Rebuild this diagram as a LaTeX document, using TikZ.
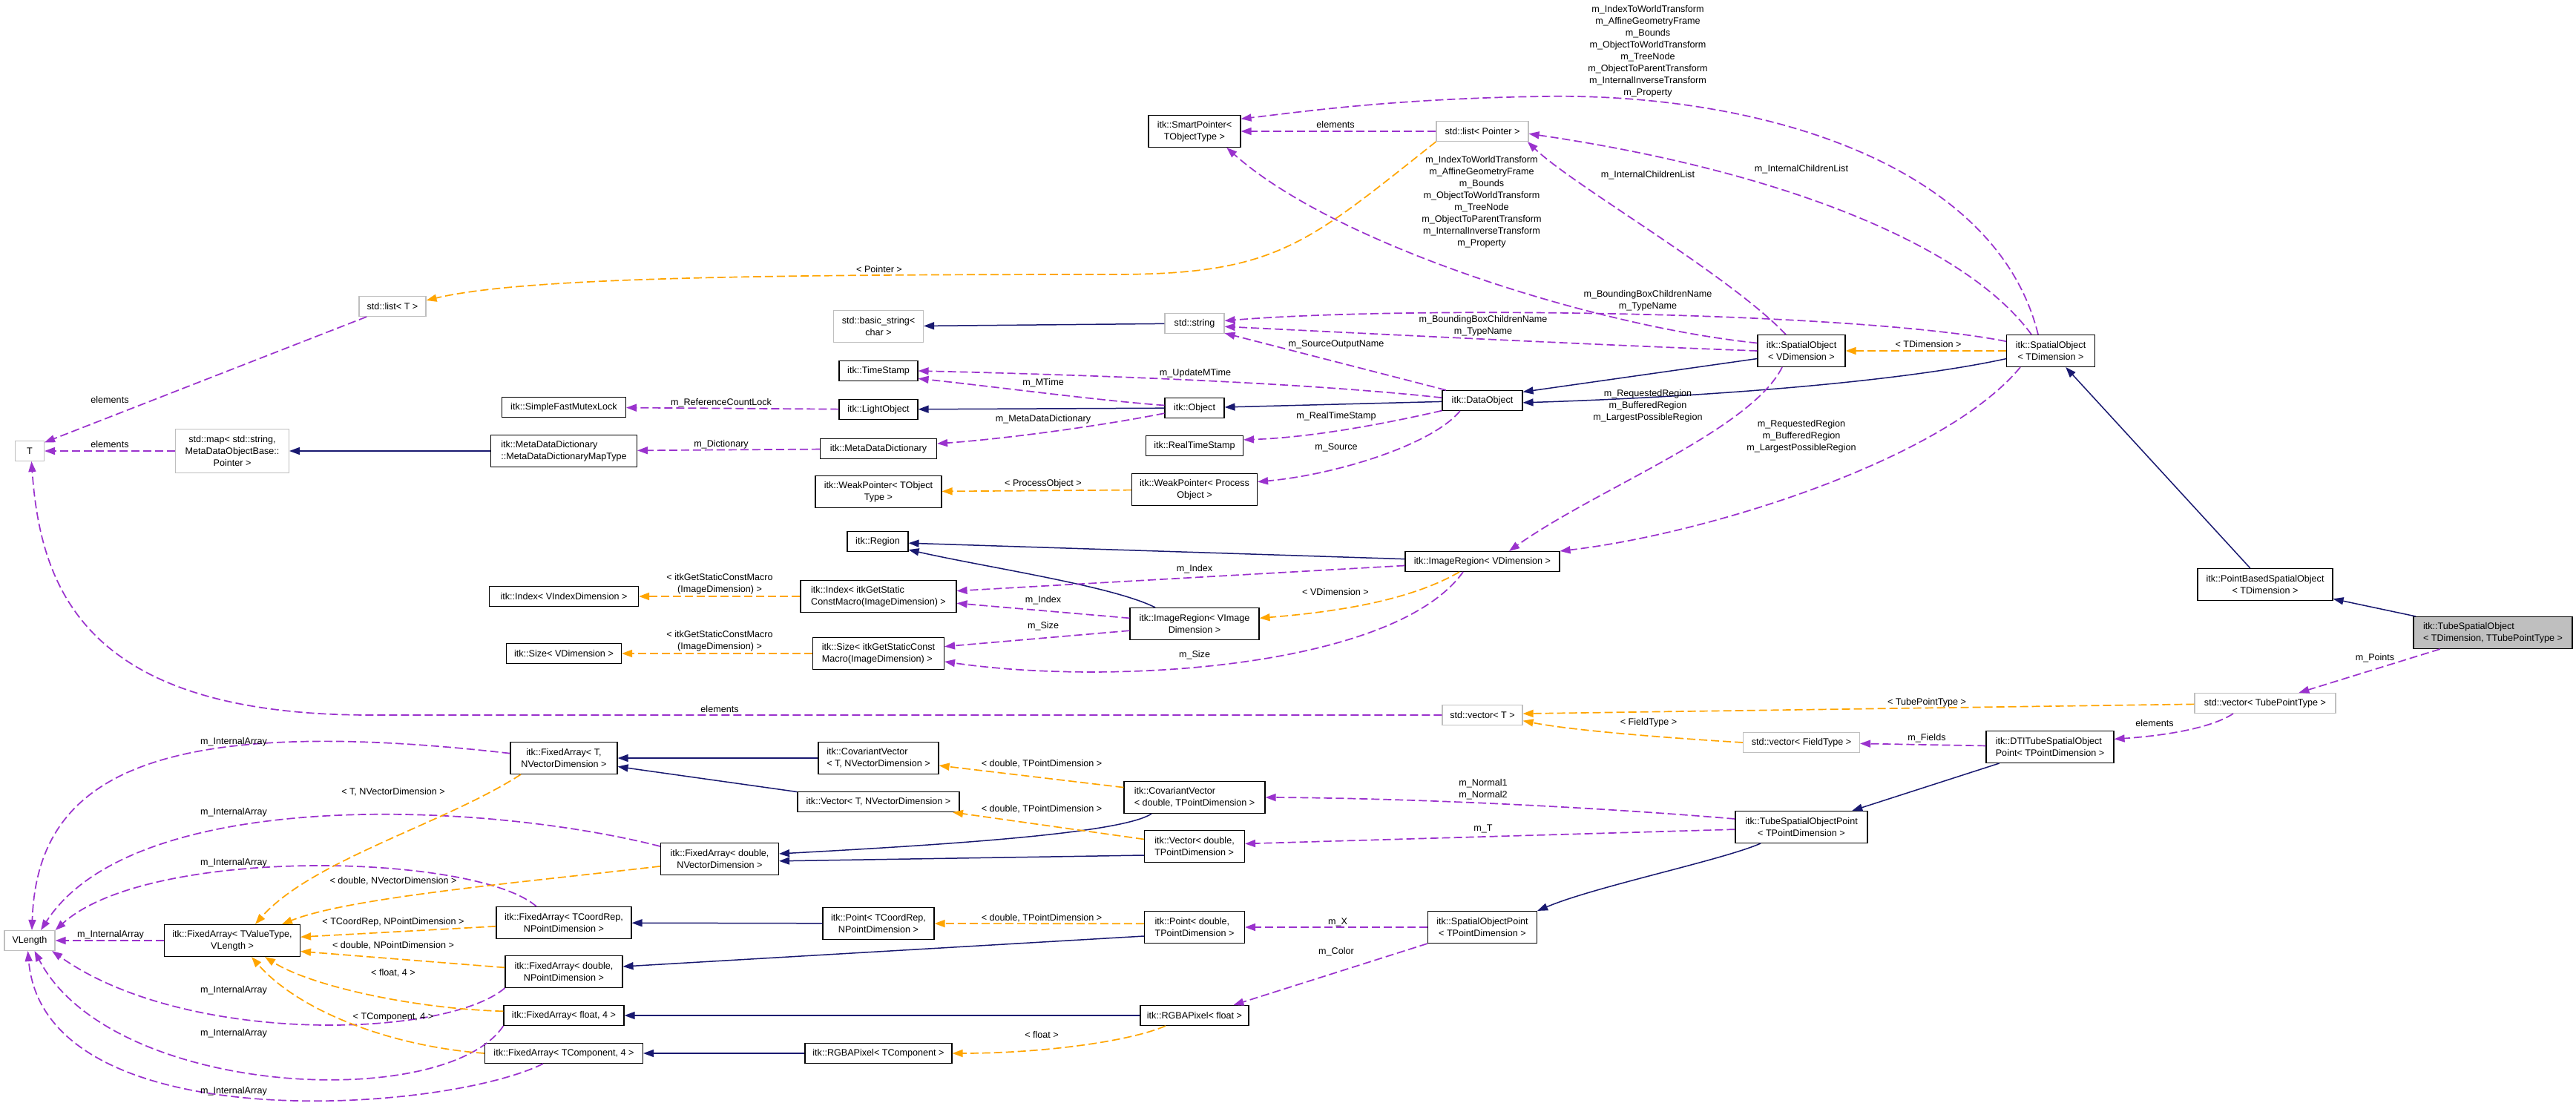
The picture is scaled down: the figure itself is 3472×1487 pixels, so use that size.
\documentclass[tikz,border=0pt]{standalone}
\usepackage{fontspec}
\setmainfont{Liberation Sans}
\usetikzlibrary{arrows.meta}
\definecolor{inhblue}{HTML}{191970}
\definecolor{mempurple}{HTML}{9A32CD}
\definecolor{tplorange}{HTML}{FFA500}
\definecolor{extgray}{HTML}{BFBFBF}
\definecolor{curgray}{HTML}{BFBFBF}
\newcommand{\graphfont}{\fontsize{12.6}{16}\selectfont}
\tikzset{
  cls/.style={draw=black, fill=white, line width=1.1pt, align=center, font=\graphfont, inner sep=2pt, minimum height=27pt, minimum width=#1},
  ext/.style={cls=#1, draw=extgray},
  cur/.style={cls=#1, fill=curgray},
  h2/.style={minimum height=43pt},
  h3/.style={minimum height=59pt},
  inh/.style={-{Triangle[length=14pt,width=10pt]}, draw=inhblue, line width=1.5pt},
  mem/.style={-{Triangle[length=14pt,width=10pt]}, draw=mempurple, line width=1.7pt, dash pattern=on 11pt off 5pt},
  tpl/.style={-{Triangle[length=14pt,width=10pt]}, draw=tplorange, line width=1.7pt, dash pattern=on 11pt off 5pt},
  lbl/.style={font=\graphfont, align=center, inner sep=0pt},
}
\begin{document}
\begin{tikzpicture}[x=1pt, y=-1pt]
  \path[use as bounding box, fill=white] (0,0) rectangle (3472,1487);
  % first column
  \node[ext=39pt] (tT) at (40,608) {T};
  \node[ext=68pt] (vlen) at (40,1268) {VLength};
  \node[ext=153pt, h3] (stdmap) at (313,608) {std::map< std::string,\\MetaDataObjectBase::\\Pointer >};
  \node[ext=90pt] (listT) at (529,413) {std::list< T >};
  \node[cls=183pt, h2] (faV) at (313,1268) {itk::FixedArray< TValueType,\\VLength >};
  % fixed arrays and small helpers
  \node[cls=167pt] (mutex) at (760,549) {itk::SimpleFastMutexLock};
  \node[cls=197pt, h2, align=left] (maptype) at (760,608) {itk::MetaDataDictionary\\::MetaDataDictionaryMapType};
  \node[cls=201pt] (idxV) at (760,804) {itk::Index< VIndexDimension >};
  \node[cls=155pt] (sizeV) at (760,881) {itk::Size< VDimension >};
  \node[cls=144pt, h2] (faTN) at (760,1022) {itk::FixedArray< T,\\NVectorDimension >};
  \node[cls=159pt, h2] (faDN) at (970,1158) {itk::FixedArray< double,\\NVectorDimension >};
  \node[cls=182pt, h2] (faTP) at (760,1244) {itk::FixedArray< TCoordRep,\\NPointDimension >};
  \node[cls=158pt, h2] (faDP) at (760,1310) {itk::FixedArray< double,\\NPointDimension >};
  \node[cls=162pt] (faF4) at (760,1369) {itk::FixedArray< float, 4 >};
  \node[cls=213pt] (faC4) at (760,1420) {itk::FixedArray< TComponent, 4 >};
  % templates
  \node[ext=121pt, h2] (bstring) at (1184,440) {std::basic\_string<\\char >};
  \node[cls=106pt] (tstamp) at (1184,500) {itk::TimeStamp};
  \node[cls=106pt] (light) at (1184,552) {itk::LightObject};
  \node[cls=157pt] (mdd) at (1184,605) {itk::MetaDataDictionary};
  \node[cls=170pt, h2] (wptrT) at (1184,663) {itk::WeakPointer< TObject\\Type >};
  \node[cls=82pt] (region) at (1183,730) {itk::Region};
  \node[cls=210pt, h2, align=left] (idxM) at (1184,804) {itk::Index< itkGetStatic\\ConstMacro(ImageDimension) >};
  \node[cls=177pt, h2, align=left] (sizeM) at (1184,881) {itk::Size< itkGetStaticConst\\Macro(ImageDimension) >};
  \node[cls=162pt, h2, align=left] (covT) at (1184,1022) {itk::CovariantVector\\< T, NVectorDimension >};
  \node[cls=218pt] (vecTN) at (1184,1081) {itk::Vector< T, NVectorDimension >};
  \node[cls=150pt, h2] (ptT) at (1184,1245) {itk::Point< TCoordRep,\\NPointDimension >};
  \node[cls=198pt] (rgbaT) at (1184,1420) {itk::RGBAPixel< TComponent >};
  % instances
  \node[cls=124pt, h2] (sptr) at (1610,177) {itk::SmartPointer<\\TObjectType >};
  \node[ext=80pt] (string) at (1610,436) {std::string};
  \node[cls=80pt] (object) at (1610,550) {itk::Object};
  \node[cls=131pt] (rtstamp) at (1610,601) {itk::RealTimeStamp};
  \node[cls=169pt, h2] (wptrP) at (1610,660) {itk::WeakPointer< Process\\Object >};
  \node[cls=174pt, h2] (iregI) at (1610,841) {itk::ImageRegion< VImage\\Dimension >};
  \node[cls=190pt, h2, align=left] (covD) at (1610,1075) {itk::CovariantVector\\< double, TPointDimension >};
  \node[cls=135pt, h2, align=left] (vecD) at (1610,1141) {itk::Vector< double,\\TPointDimension >};
  \node[cls=135pt, h2, align=left] (ptD) at (1610,1250) {itk::Point< double,\\TPointDimension >};
  \node[cls=146pt] (rgbaF) at (1610,1369) {itk::RGBAPixel< float >};
  \node[ext=124pt] (listP) at (1998,177) {std::list< Pointer >};
  \node[cls=108pt] (dataobj) at (1998,540) {itk::DataObject};
  \node[cls=208pt] (iregV) at (1998,757) {itk::ImageRegion< VDimension >};
  \node[ext=108pt] (vecT) at (1998,964) {std::vector< T >};
  \node[cls=147pt, h2] (sopt) at (1998,1250) {itk::SpatialObjectPoint\\< TPointDimension >};
  \node[cls=118pt, h2] (soV) at (2428,473) {itk::SpatialObject\\< VDimension >};
  \node[ext=157pt] (vecF) at (2428,1001) {std::vector< FieldType >};
  \node[cls=178pt, h2] (tubept) at (2428,1115) {itk::TubeSpatialObjectPoint\\< TPointDimension >};
  \node[cls=119pt, h2] (soT) at (2764,473) {itk::SpatialObject\\< TDimension >};
  \node[cls=172pt, h2, align=left] (dtipt) at (2763,1007) {itk::DTITubeSpatialObject\\Point< TPointDimension >};
  \node[cls=182pt, h2] (pbso) at (3053,788) {itk::PointBasedSpatialObject\\< TDimension >};
  \node[ext=190pt] (vecTP) at (3053,948) {std::vector< TubePointType >};
  \node[cur=214pt, h2, align=left] (tube) at (3360,853) {itk::TubeSpatialObject\\< TDimension, TTubePointType >};
  % inheritance
  \foreach \a/\b in {string/bstring,object/light,dataobj/object,pbso/soT,tube/pbso,maptype/stdmap,covT/faTN,ptT/faTP,rgbaF/faF4,rgbaT/faC4,dtipt/tubept} \draw[inh] (\a) -- (\b);
  \draw[inh] (soV.190) -- (dataobj.12);
  \draw[inh] (soT.190) .. controls (2560,515) and (2300,535) .. (dataobj.-3);
  \draw[inh] (iregV) -- (region.-3);
  \draw[inh] ([xshift=-53pt]iregI.north) .. controls (1500,790) and (1330,765) .. (region.-15);
  \draw[inh] (vecTN.173) -- (faTN.-9);
  \draw[inh] ([xshift=-58pt]covD.south) .. controls (1510,1125) and (1250,1140) .. (faDN.5);
  \draw[inh] (vecD.190) -- (faDN.-2);
  \draw[inh] (ptD.190) -- (faDP.5);
  \draw[inh] ([xshift=-55pt]tubept.south) .. controls (2320,1160) and (2150,1195) .. (sopt.north east);
  % members
  \foreach \a/\b in {stdmap/tT,listP/sptr,light/mutex,mdd/maptype,tube/vecTP,dtipt/vecF,sopt/ptD,faV/vlen} \draw[mem] (\a) -- (\b);
  \draw[mem] (listT.-158) -- (tT.30);
  \draw[mem] (vecT) -- (500,964) .. controls (120,964) and (55,800) .. (tT.-80);
  \draw[mem] ([xshift=-17pt]soT.north) .. controls (2690,220) and (2370,125) .. (2080,130) .. controls (1880,133) and (1760,150) .. (sptr.15);
  \draw[mem] (soV.170) .. controls (2150,440) and (1800,330) .. (sptr.-27);
  \draw[mem] ([xshift=-21pt]soV.north) .. controls (2330,370) and (2120,250) .. (listP.-13);
  \draw[mem] ([xshift=-26pt]soT.north) .. controls (2650,330) and (2400,230) .. (listP.-3);
  \draw[mem] (soT.168) .. controls (2500,420) and (1900,412) .. (string.5);
  \draw[mem] (soV.west) .. controls (2150,465) and (1850,450) .. (string.-6);
  \draw[mem] (dataobj.164) -- (string.-18);
  \draw[mem] (dataobj.176) .. controls (1750,515) and (1450,505) .. (tstamp.east);
  \draw[mem] (object.175) .. controls (1480,540) and (1330,520) .. (tstamp.-11);
  \draw[mem] (object.-170) .. controls (1480,575) and (1350,592) .. (mdd.5);
  \draw[mem] (dataobj.-166) .. controls (1850,575) and (1760,590) .. (rtstamp.7);
  \draw[mem] (dataobj.-155) .. controls (1930,600) and (1800,640) .. (wptrP.7);
  \draw[mem] ([xshift=-26pt]soV.south) .. controls (2360,580) and (2150,660) .. ([xshift=36pt]iregV.north);
  \draw[mem] ([xshift=-41pt]soT.south) .. controls (2620,620) and (2300,720) .. (iregV.north east);
  \draw[mem] (iregV.-177) -- (idxM.4);
  \draw[mem] (iregI.175) -- (idxM.-5);
  \draw[mem] (iregI.-174) -- (sizeM.6);
  \draw[mem] ([xshift=-26pt]iregV.south) .. controls (1880,900) and (1500,925) .. (sizeM.-7);
  \draw[mem] ([xshift=-43pt]vecTP.south) .. controls (2975,985) and (2900,993) .. (dtipt.7);
  \draw[mem] (tubept.173) .. controls (2150,1088) and (1900,1076) .. (covD.east);
  \draw[mem] (tubept.-178) -- (vecD.3);
  \draw[mem] (sopt.south west) -- (rgbaF.15);
  \draw[mem] (faTN.175) .. controls (200,960) and (50,1050) .. (vlen.78);
  \draw[mem] (faDN.168) .. controls (650,1080) and (180,1060) .. (vlen.43);
  \draw[mem] ([xshift=-37pt]faTP.north) .. controls (640,1150) and (200,1140) .. (vlen.22);
  \draw[mem] (faDP.south west) .. controls (600,1400) and (250,1410) .. (vlen.-25);
  \draw[mem] (faF4.south west) .. controls (600,1500) and (150,1480) .. (vlen.-65);
  \draw[mem] ([xshift=-28pt]faC4.south) .. controls (600,1500) and (60,1540) .. (vlen.-100);
  % template instances
  \foreach \a/\b in {wptrP/wptrT,soT/soV,idxM/idxV,sizeM/sizeV} \draw[tpl] (\a) -- (\b);
  \draw[tpl] (listP.south west) .. controls (1760,330) and (1720,370) .. (1500,370) .. controls (1000,370) and (700,375) .. (listT.10);
  \draw[tpl] ([xshift=-31pt]iregV.south) .. controls (1900,810) and (1800,825) .. (iregI.5);
  \draw[tpl] (vecTP) -- (vecT.2);
  \draw[tpl] (vecF.west) .. controls (2250,995) and (2120,985) .. (vecT.-8);
  \draw[tpl] (covD.172) -- (covT.-7);
  \draw[tpl] (vecD.172) -- (vecTN.-8);
  \draw[tpl] (ptD.176) -- (ptT);
  \draw[tpl] ([xshift=-39pt]rgbaF.south) .. controls (1520,1405) and (1400,1420) .. (rgbaT.east);
  \draw[tpl] ([xshift=-58pt]faTN.south) .. controls (600,1110) and (420,1160) .. ([xshift=31pt]faV.north);
  \draw[tpl] (faDN.-173) .. controls (700,1190) and (470,1210) .. ([xshift=67pt]faV.north);
  \draw[tpl] (faTP.-177) -- (faV.3);
  \draw[tpl] (faDP.176) -- (faV.-9);
  \draw[tpl] (faF4.176) .. controls (560,1360) and (420,1330) .. ([xshift=44pt]faV.south);
  \draw[tpl] (faC4.west) .. controls (520,1410) and (400,1360) .. ([xshift=26pt]faV.south);
  % edge labels
  \node[lbl] (lPointer) at (1185,363) {< Pointer >};
  \node[lbl] (lElemSP) at (1800,168) {elements};
  \node[lbl] (lSOT) at (2221,69) {m\_IndexToWorldTransform\\m\_AffineGeometryFrame\\m\_Bounds\\m\_ObjectToWorldTransform\\m\_TreeNode\\m\_ObjectToParentTransform\\m\_InternalInverseTransform\\m\_Property};
  \node[lbl] (lSOV) at (1997,272) {m\_IndexToWorldTransform\\m\_AffineGeometryFrame\\m\_Bounds\\m\_ObjectToWorldTransform\\m\_TreeNode\\m\_ObjectToParentTransform\\m\_InternalInverseTransform\\m\_Property};
  \node[lbl] (lChildV) at (2221,236) {m\_InternalChildrenList};
  \node[lbl] (lChildT) at (2428,228) {m\_InternalChildrenList};
  \node[lbl] (lNameT) at (2221,405) {m\_BoundingBoxChildrenName\\m\_TypeName};
  \node[lbl] (lNameV) at (1999,439) {m\_BoundingBoxChildrenName\\m\_TypeName};
  \node[lbl] (lSrcName) at (1801,464) {m\_SourceOutputName};
  \node[lbl] (lUpd) at (1611,503) {m\_UpdateMTime};
  \node[lbl] (lMTime) at (1406,516) {m\_MTime};
  \node[lbl] (lLock) at (972,543) {m\_ReferenceCountLock};
  \node[lbl] (lMDD) at (1406,565) {m\_MetaDataDictionary};
  \node[lbl] (lDict) at (972,599) {m\_Dictionary};
  \node[lbl] (lRTS) at (1801,561) {m\_RealTimeStamp};
  \node[lbl] (lSource) at (1801,603) {m\_Source};
  \node[lbl] (lProc) at (1406,652) {< ProcessObject >};
  \node[lbl] (lTDim) at (2599,464) {< TDimension >};
  \node[lbl] (lRegV) at (2221,547) {m\_RequestedRegion\\m\_BufferedRegion\\m\_LargestPossibleRegion};
  \node[lbl] (lRegT) at (2428,588) {m\_RequestedRegion\\m\_BufferedRegion\\m\_LargestPossibleRegion};
  \node[lbl] (lElemL) at (148,539) {elements};
  \node[lbl] (lElemM) at (148,599) {elements};
  \node[lbl] (lIdxV) at (1610,767) {m\_Index};
  \node[lbl] (lIdxI) at (1406,809) {m\_Index};
  \node[lbl] (lSizeI) at (1406,844) {m\_Size};
  \node[lbl] (lSizeV) at (1610,883) {m\_Size};
  \node[lbl] (lVDim) at (1800,798) {< VDimension >};
  \node[lbl] (lMacroI) at (970,787) {< itkGetStaticConstMacro\\(ImageDimension) >};
  \node[lbl] (lMacroS) at (970,864) {< itkGetStaticConstMacro\\(ImageDimension) >};
  \node[lbl] (lElemV) at (970,956) {elements};
  \node[lbl] (lTPT) at (2597,947) {< TubePointType >};
  \node[lbl] (lPoints) at (3201,887) {m\_Points};
  \node[lbl] (lElemD) at (2904,975) {elements};
  \node[lbl] (lFields) at (2597,995) {m\_Fields};
  \node[lbl] (lField) at (2222,974) {< FieldType >};
  \node[lbl] (lNormal) at (1999,1064) {m\_Normal1\\m\_Normal2};
  \node[lbl] (lT) at (1999,1117) {m\_T};
  \foreach \y/\n in {1030/a,1091/b,1238/c} \node[lbl] (lDTP\n) at (1404,\y) {< double, TPointDimension >};
  \node[lbl] (lX) at (1803,1243) {m\_X};
  \node[lbl] (lColor) at (1801,1283) {m\_Color};
  \node[lbl] (lFloat) at (1404,1395) {< float >};
  \foreach \y/\n in {1000/a,1095/b,1163/c,1335/d,1393/e,1471/f} \node[lbl] (lArr\n) at (315,\y) {m\_InternalArray};
  \node[lbl] (lArrV) at (149,1260) {m\_InternalArray};
  \node[lbl] (lTNV) at (530,1068) {< T, NVectorDimension >};
  \node[lbl] (lDNV) at (530,1188) {< double, NVectorDimension >};
  \node[lbl] (lTNP) at (530,1243) {< TCoordRep, NPointDimension >};
  \node[lbl] (lDNP) at (530,1275) {< double, NPointDimension >};
  \node[lbl] (lF4) at (530,1312) {< float, 4 >};
  \node[lbl] (lC4) at (530,1371) {< TComponent, 4 >};
\end{tikzpicture}
\end{document}
